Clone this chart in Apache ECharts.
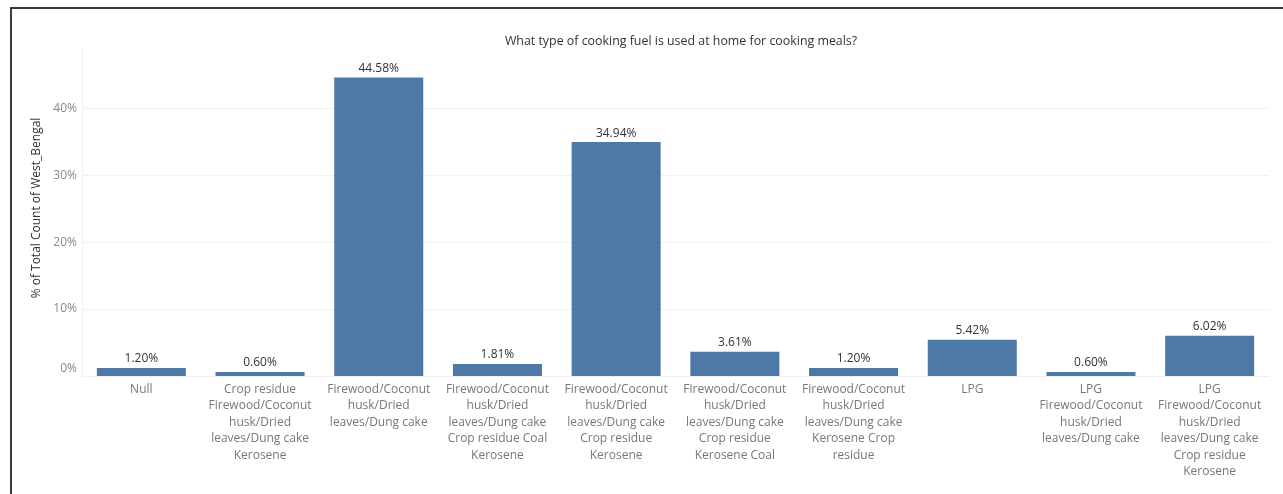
<!DOCTYPE html>
<html>
<head>
<meta charset="utf-8">
<script src="https://cdn.jsdelivr.net/npm/echarts@6/dist/echarts.min.js"></script>
<style>
  html, body { margin: 0; padding: 0; background: #fff; }
  #frame { position: absolute; left: 10px; top: 7px; width: 1273px; height: 487px;
           border-left: 2px solid #3a3a3a; border-top: 2px solid #3a3a3a; box-sizing: border-box; }
  #chart { position: absolute; left: 0; top: 0; width: 1283px; height: 494px; }
</style>
</head>
<body>
<div id="frame"></div>
<div id="chart"></div>
<script>
const titleText = 'What type of cooking fuel is used at home for cooking meals?';
const yAxisTitle = '% of Total Count of West_Bengal';
const categories = [
  'Null',
  'Crop residue\nFirewood/Coconut\nhusk/Dried\nleaves/Dung cake\nKerosene',
  'Firewood/Coconut\nhusk/Dried\nleaves/Dung cake',
  'Firewood/Coconut\nhusk/Dried\nleaves/Dung cake\nCrop residue Coal\nKerosene',
  'Firewood/Coconut\nhusk/Dried\nleaves/Dung cake\nCrop residue\nKerosene',
  'Firewood/Coconut\nhusk/Dried\nleaves/Dung cake\nCrop residue\nKerosene Coal',
  'Firewood/Coconut\nhusk/Dried\nleaves/Dung cake\nKerosene Crop\nresidue',
  'LPG',
  'LPG\nFirewood/Coconut\nhusk/Dried\nleaves/Dung cake',
  'LPG\nFirewood/Coconut\nhusk/Dried\nleaves/Dung cake\nCrop residue\nKerosene'
];
const percentValues = [1.20, 0.60, 44.58, 1.81, 34.94, 3.61, 1.20, 5.42, 0.60, 6.02];
const gridTicks = [10, 20, 30, 40];

const chart = echarts.init(document.getElementById('chart'));
chart.setOption({
  animation: false,
  textStyle: { fontFamily: 'Open Sans' },
  title: {
    text: titleText,
    left: 676, top: 30, textAlign: 'center',
    textStyle: { fontSize: 12.4, fontWeight: 'normal', color: '#333', fontFamily: 'Open Sans' }
  },
  grid: { left: 82, right: 14, top: 48, bottom: 118, containLabel: false },
  xAxis: {
    type: 'category',
    data: categories,
    axisLine: { show: true, lineStyle: { color: '#efefef' } },
    axisTick: { show: false },
    axisLabel: { interval: 0, color: '#777', fontSize: 12, lineHeight: 16.5, margin: 5, fontFamily: 'Open Sans' }
  },
  yAxis: {
    type: 'value',
    min: 0, max: 49, interval: 10,
    name: yAxisTitle,
    nameLocation: 'middle',
    nameGap: 38,
    nameRotate: 90,
    nameTextStyle: { color: '#333', fontSize: 12, fontFamily: 'Open Sans', padding: [0, 0, 0, 8] },
    axisLine: { show: true, lineStyle: { color: '#efefef' } },
    axisTick: { show: false },
    splitLine: { show: false },
    axisLabel: {
      color: '#888', fontSize: 12, margin: 5, fontFamily: 'Open Sans',
      showMaxLabel: false,
      formatter: function (v) { return v === 0 ? '{z|0%}' : (v % 10 === 0 ? v + '%' : ''); },
      rich: { z: { color: '#888', fontSize: 12, fontFamily: 'Open Sans', padding: [0, 0, 15, 0] } }
    }
  },
  series: [{
    type: 'bar',
    data: percentValues,
    barCategoryGap: '25%',
    itemStyle: { color: '#4e79a7' },
    label: {
      show: true, position: 'top', distance: 3,
      color: '#333', fontSize: 12, fontFamily: 'Open Sans',
      formatter: function (p) { return p.value.toFixed(2) + '%'; }
    },
    markLine: {
      silent: true, symbol: 'none', label: { show: false },
      lineStyle: { color: '#f0f0f0', type: 'solid', width: 1 },
      data: gridTicks.map(function (t) { return { yAxis: t }; }),
      z: 0
    }
  }]
});
</script>
</body>
</html>
